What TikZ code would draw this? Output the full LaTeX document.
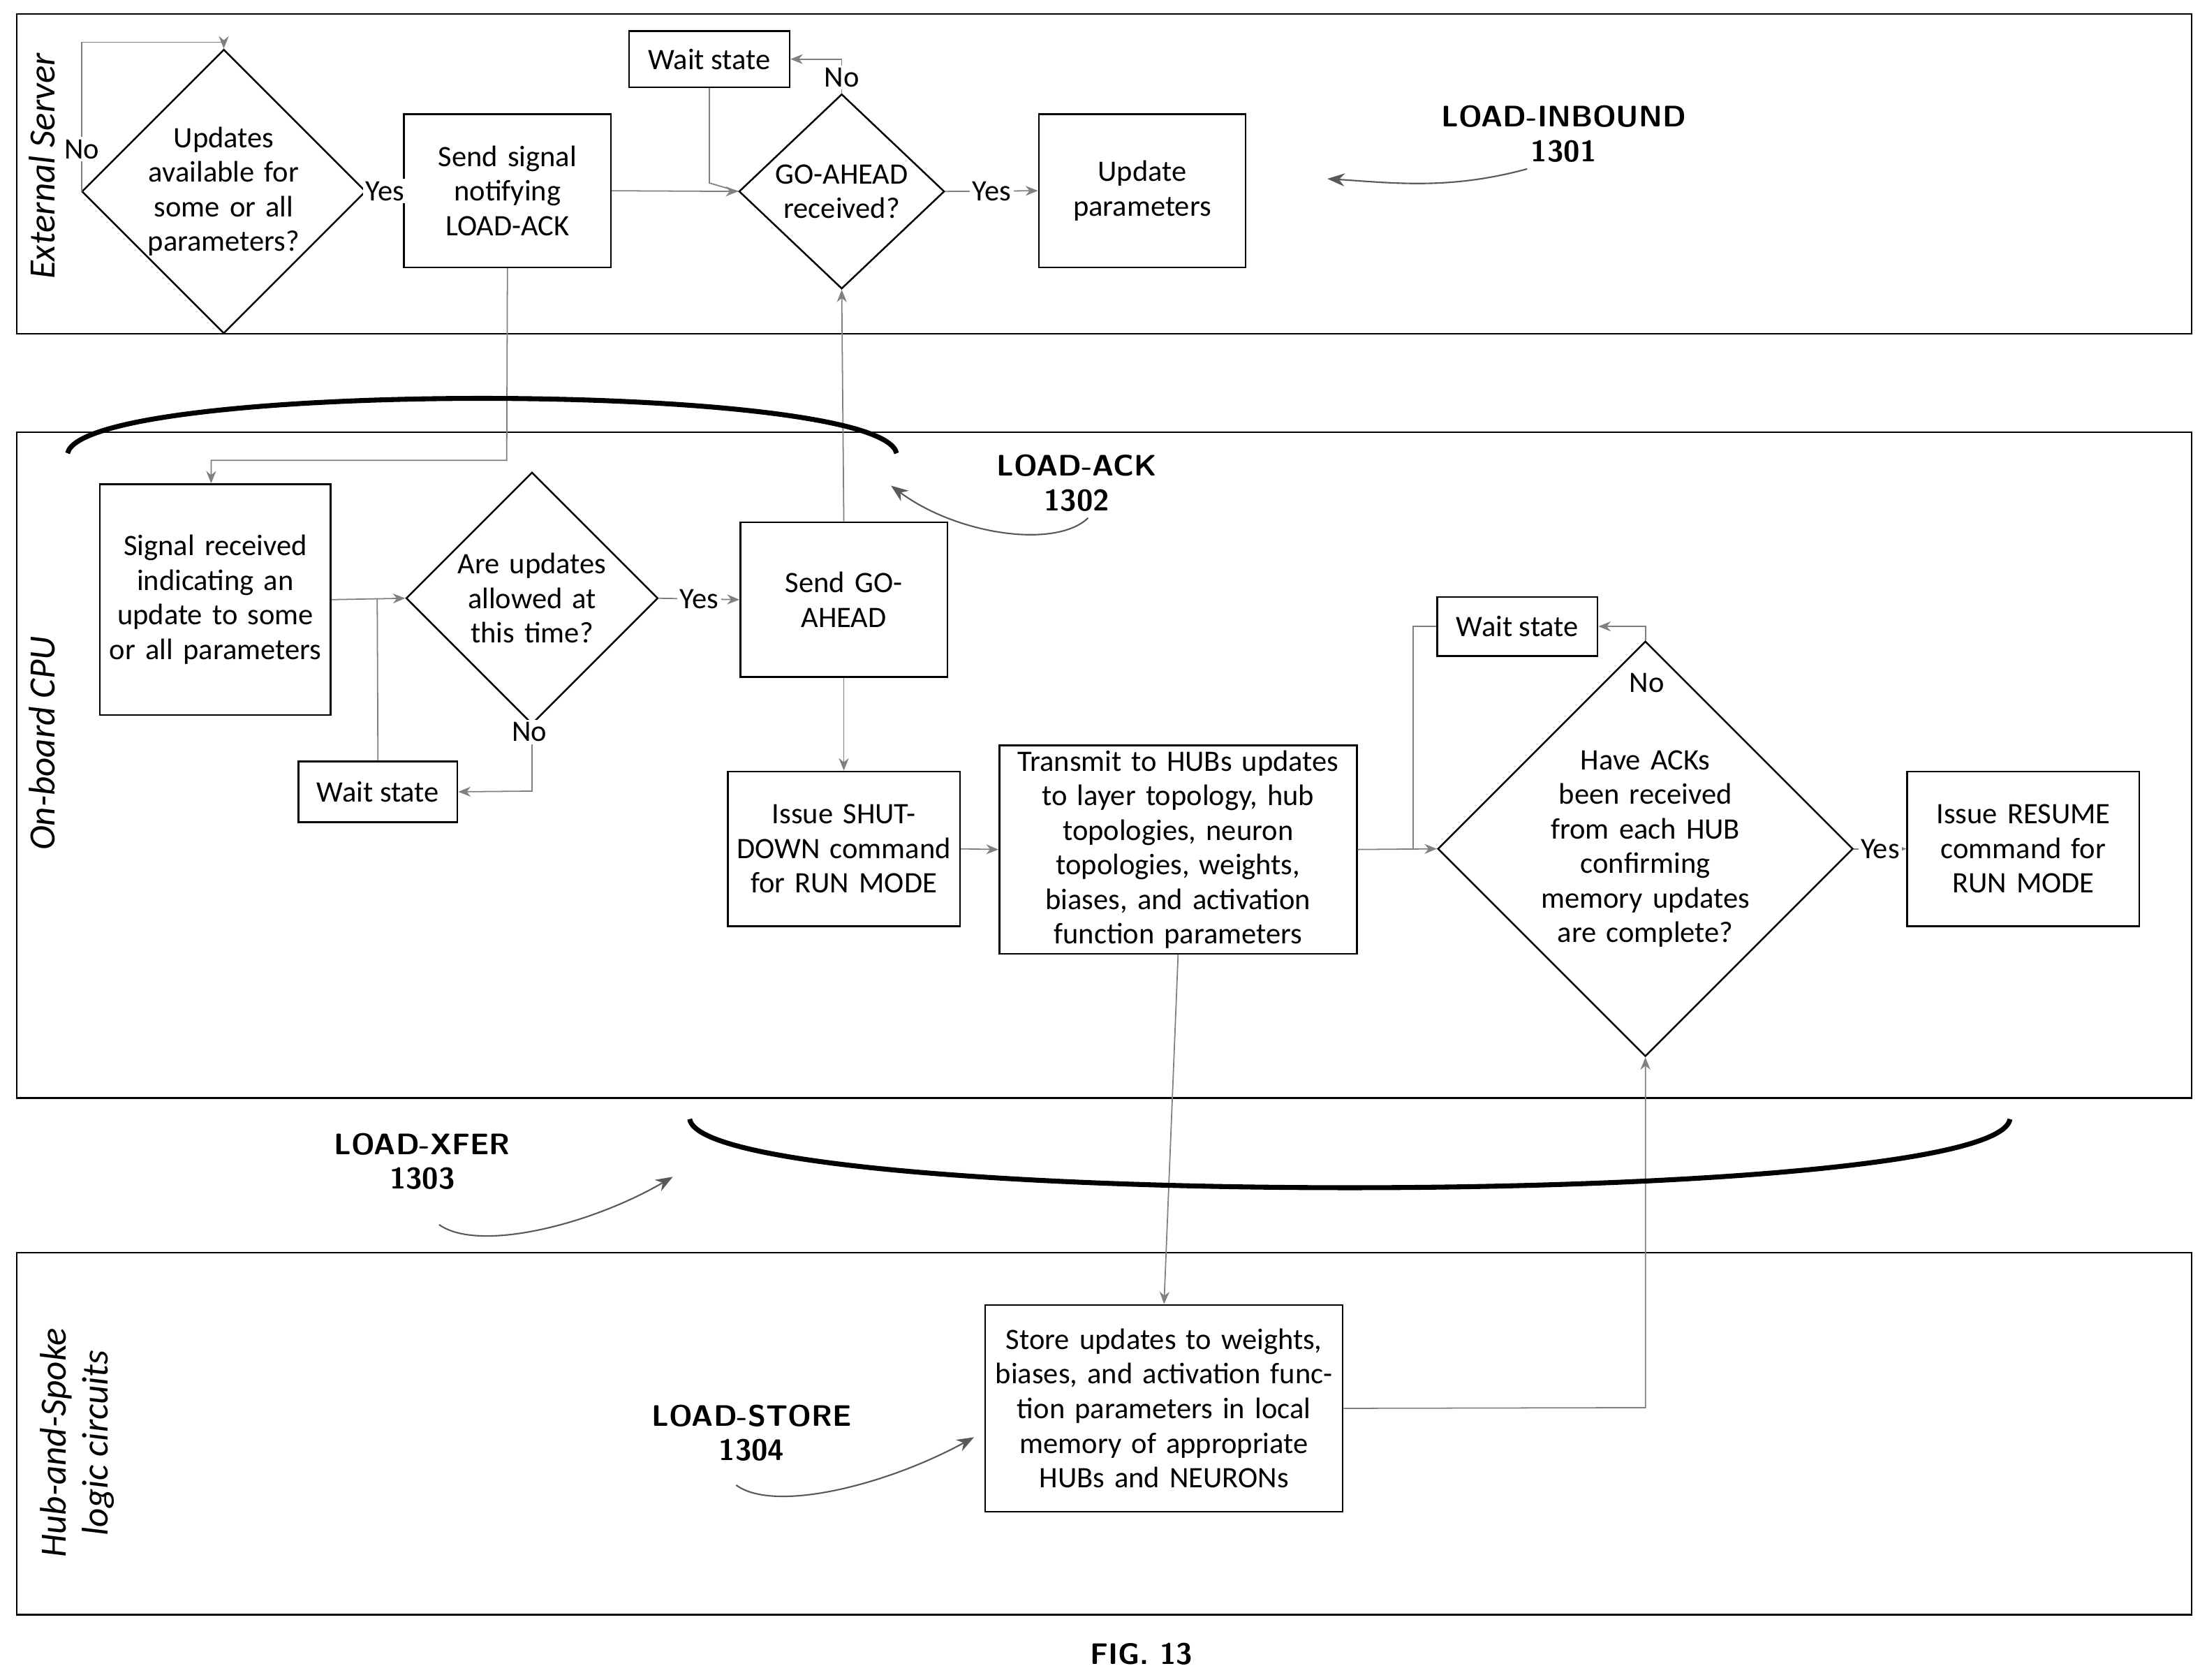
\documentclass[tikz,border=0pt]{standalone}
\usepackage{fontspec}
\setmainfont{Carlito}
\usetikzlibrary{shapes.geometric,arrows.meta}
\tikzset{
  lane/.style={draw, line width=0.7pt},
  box/.style={draw, line width=0.7pt, align=center, inner sep=2pt, font=\fontsize{12}{14}\selectfont},
  dia/.style={draw, diamond, line width=0.7pt, align=center, inner sep=0pt, font=\fontsize{12}{14}\selectfont},
  flow/.style={draw=gray, line width=0.5pt, -{Stealth[length=5pt,width=4pt]}},
  link/.style={draw=gray, line width=0.5pt},
  lbl/.style={font=\fontsize{12}{14}\selectfont, fill=white, inner sep=1pt},
  tag/.style={font=\bfseries\sffamily\fontsize{12}{14}\selectfont, align=center},
  pointer/.style={draw=gray!70!black, line width=0.6pt, -{Stealth[length=7pt]}},
  brace/.style={line width=2pt},
  lanetitle/.style={rotate=90, font=\itshape\fontsize{15}{17}\selectfont, align=center}
}
\begin{document}
\begin{tikzpicture}[x=0.02cm, y=-0.02cm]
  \useasboundingbox (0,0) rectangle (1568,1193);

  % swim lanes
  \draw[lane] (12,10) rectangle (1557,237);
  \draw[lane] (12,307) rectangle (1557,780);
  \draw[lane] (12,890) rectangle (1557,1147);
  \node[lanetitle] at (30,118) {External Server};
  \node[lanetitle] at (30,528) {On-board CPU};
  \node[lanetitle] at (55,1025) {Hub-and-Spoke\\logic circuits};

  % external server
  \node[dia, minimum width=3.28cm, minimum height=3.28cm, text width=2.2cm] (avail) at (159,136) {Updates available for some or all parameters?};
  \node[box, minimum width=2.94cm, minimum height=2.18cm, text width=2.7cm] (notify) at (360.5,135.5) {Send signal notifying LOAD-ACK};
  \node[box, minimum width=2.28cm, minimum height=0.8cm] (waitA) at (504,42) {Wait state};
  \node[dia, minimum width=2.92cm, minimum height=2.16cm, text width=2cm] (goahead) at (598,136) {GO-AHEAD received?};
  \node[box, minimum width=2.94cm, minimum height=2.18cm, text width=2.7cm] (update) at (811.5,135.5) {Update parameters};

  % on-board cpu
  \node[box, minimum width=3.28cm, minimum height=3.28cm, text width=3.1cm] (recv) at (153,426) {Signal received indicating an update to some or all parameters};
  \node[dia, minimum width=2.96cm, minimum height=2.16cm, text width=2.3cm] (allowed) at (378,425) {Are updates allowed at this time?};
  \node[box, minimum width=2.26cm, minimum height=0.86cm] (waitB) at (268.5,562.5) {Wait state};
  \node[box, minimum width=2.94cm, minimum height=2.2cm, text width=2.8cm] (sendga) at (599.5,426) {Send GO-AHEAD};
  \node[box, minimum width=3.3cm, minimum height=2.2cm, text width=3.1cm] (shutdown) at (599.5,603) {Issue SHUT-DOWN command for RUN MODE};
  \node[box, minimum width=5.08cm, minimum height=2.94cm, text width=4.9cm] (xmit) at (837,603.5) {Transmit to HUBs updates to layer topology, hub topologies, neuron topologies, weights, biases, and activation function parameters};
  \node[box, minimum width=2.28cm, minimum height=0.84cm] (waitC) at (1078,445) {Wait state};
  \node[dia, minimum width=4.08cm, minimum height=3.68cm, text width=3.1cm] (acks) at (1169,603) {Have ACKs been received from each HUB confirming memory updates are complete?};
  \node[box, minimum width=3.3cm, minimum height=2.2cm, text width=3.1cm] (resume) at (1437.5,603) {Issue RESUME command for RUN MODE};

  % hub-and-spoke
  \node[box, minimum width=5.08cm, minimum height=2.94cm, text width=4.9cm] (store) at (827,1000.5) {Store updates to weights, biases, and activation function parameters in local memory of appropriate HUBs and NEURONs};

  % connectors
  \draw[flow] (avail.west) -- (58,136) -- (58,30) -- (159,30) -- (avail.north);
  \node[lbl] at (58,106) {No};
  \draw[flow] (avail.east) -- node[lbl] {Yes} (notify.west);
  \draw[flow] (notify.east) -- (goahead.west);
  \draw[link] (waitA.south) -- (504,130) -- (goahead.west);
  \draw[flow] (goahead.north) -- (598,42) -- (waitA.east);
  \node[lbl] at (598,55) {No};
  \draw[flow] (goahead.east) -- node[lbl] {Yes} (update.west);
  \draw[flow] (notify.south) -- (360,327) -- (150,327) -- (recv.north -| 150,0);
  \draw[flow] (recv.east) -- (allowed.west);
  \draw[link] (waitB.north) -- (268,425);
  \draw[flow] (allowed.south) -- (378,562) -- (waitB.east);
  \node[lbl] at (376,520) {No};
  \draw[flow] (allowed.east) -- node[lbl] {Yes} (sendga.west);
  \draw[flow] (sendga.north) -- (goahead.south);
  \draw[flow] (sendga.south) -- (shutdown.north);
  \draw[flow] (shutdown.east) -- (xmit.west);
  \draw[flow] (xmit.east) -- (acks.west);
  \draw[link] (waitC.west) -- (1004,445) -- (1004,603);
  \draw[flow] (acks.north) -- (1169,445) -- (waitC.east);
  \node[lbl] at (1170,485) {No};
  \draw[flow] (acks.east) -- node[lbl] {Yes} (resume.west);
  \draw[flow] (xmit.south) -- (store.north);
  \draw[flow] (store.east) -- (1169,1000) -- (acks.south);

  % braces
  \draw[brace] (48,322) .. controls (60,270) and (625,270) .. (637,322);
  \draw[brace] (490,795) .. controls (500,860) and (1418,860) .. (1428,795);

  % tags
  \node[tag] (inbound) at (1111,95) {LOAD-INBOUND\\1301};
  \draw[pointer] (1085,120) .. controls (1030,135) and (990,130) .. (943,127);
  \node[tag] (ack) at (765,343) {LOAD-ACK\\1302};
  \draw[pointer] (773,368) .. controls (750,390) and (680,380) .. (633,345);
  \node[tag] (xfer) at (300,825) {LOAD-XFER\\1303};
  \draw[pointer] (312,870) .. controls (340,890) and (420,870) .. (478,836);
  \node[tag] (storetag) at (534,1018) {LOAD-STORE\\1304};
  \draw[pointer] (523,1055) .. controls (550,1075) and (630,1055) .. (692,1021);
  \node[tag] (fig) at (811,1175) {FIG. 13};
\end{tikzpicture}
\end{document}
